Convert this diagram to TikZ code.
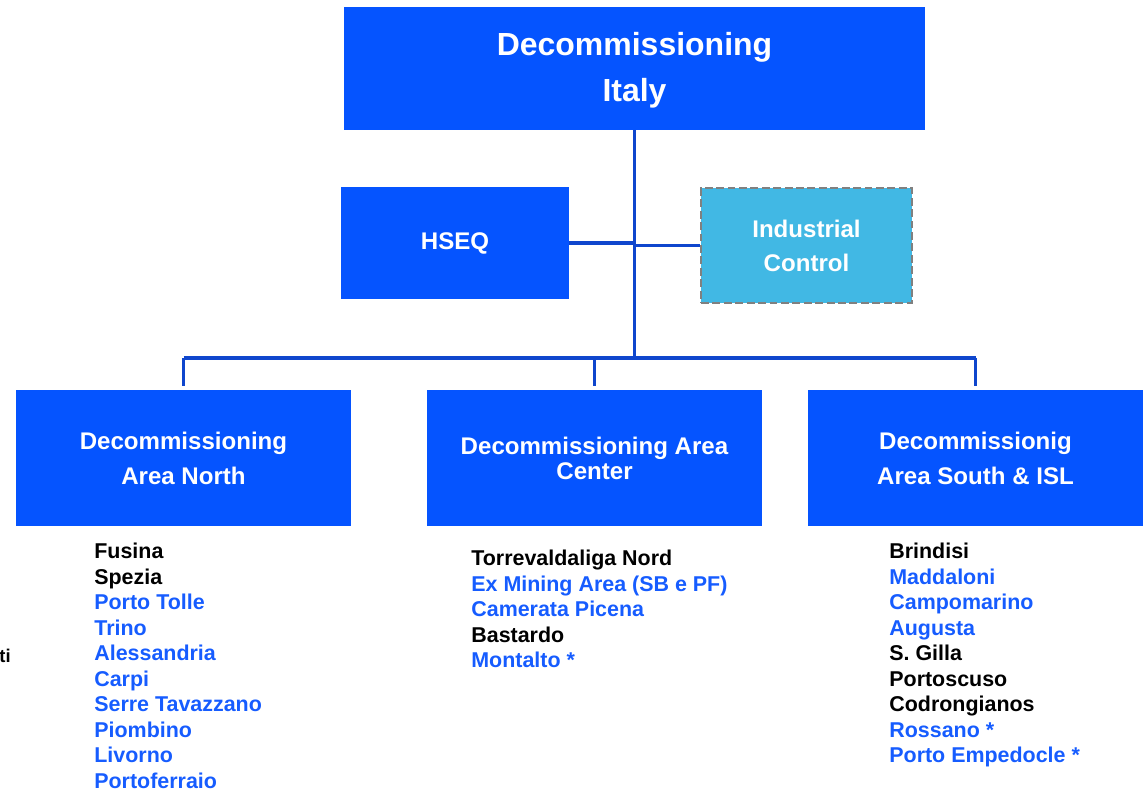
\documentclass[tikz,border=0pt]{standalone}
\usepackage{fontspec}
\setmainfont{Liberation Sans}
\definecolor{boxblue}{RGB}{5,84,255}
\definecolor{icblue}{RGB}{65,184,228}
\definecolor{lineblue}{RGB}{15,70,205}
\definecolor{textblue}{RGB}{22,92,255}
\definecolor{dashgray}{RGB}{128,128,128}
\begin{document}
\begin{tikzpicture}[x=0.02cm,y=-0.02cm,
            main box/.style={fill=boxblue,text=white,font=\bfseries,align=center,inner sep=0pt},
            area box/.style={main box,minimum width=6.7cm,minimum height=2.72cm,
                font=\fontsize{13.7}{19.9}\selectfont\bfseries},
            site list/.style={anchor=north west,inner sep=0pt,align=left,
                font=\fontsize{12.2}{14.5}\selectfont\bfseries},
            conn/.style={draw=lineblue,line width=1.8pt}]

        \useasboundingbox (0,0) rectangle (1145,793);

        % Define vertices
        \node[main box,minimum width=11.62cm,minimum height=2.46cm,
            font=\fontsize{18.2}{26}\selectfont\bfseries] (italy) at (634.5,68.5) {};
        \node[main box,fill=none,font=\fontsize{18.2}{26}\selectfont\bfseries] (italytext) at (634.5,70.5) {Decommissioning\\Italy};
        \node[main box,minimum width=4.56cm,minimum height=2.24cm,
            font=\fontsize{13.7}{19.9}\selectfont\bfseries] (hseq) at (455,243) {HSEQ};
        \node[main box,fill=icblue,draw=dashgray,dash pattern=on 4.5pt off 2pt,line width=1.6pt,
            minimum width=4.22cm,minimum height=2.3cm,
            font=\fontsize{13.7}{19.3}\selectfont\bfseries] (control) at (806.5,245.5) {Industrial\\Control};
        \node[area box] (north) at (183.5,458) {Decommissioning\\Area North};
        \node[area box,font=\fontsize{13.7}{14.2}\selectfont\bfseries] (center) at (594.5,458) {Decommissioning Area\\Center};
        \node[area box] (south) at (975.5,458) {Decommissionig\\Area South \& ISL};
        \coordinate (hub) at (634.5,358);

        % Sites
        \node[site list] (northsites) at (94,543) {Fusina\\Spezia\\
            \color{textblue}Porto Tolle\\\color{textblue}Trino\\\color{textblue}Alessandria\\
            \color{textblue}Carpi\\\color{textblue}Serre Tavazzano\\\color{textblue}Piombino\\
            \color{textblue}Livorno\\\color{textblue}Portoferraio};
        \node[site list] (centersites) at (471,550) {Torrevaldaliga Nord\\
            \color{textblue}Ex Mining Area (SB e PF)\\\color{textblue}Camerata Picena\\
            Bastardo\\\color{textblue}Montalto *};
        \node[site list] (southsites) at (889,543) {Brindisi\\
            \color{textblue}Maddaloni\\\color{textblue}Campomarino\\\color{textblue}Augusta\\
            S. Gilla\\Portoscuso\\Codrongianos\\
            \color{textblue}Rossano *\\\color{textblue}Porto Empedocle *};
        \node[anchor=east,inner sep=0pt,font=\fontsize{10.5}{12}\selectfont\bfseries] (cut) at (11,656) {ti};

        % Draw edges
        \draw[conn] (italy.south) -- (hub);
        \draw[conn] (hseq.east) -- (hseq.east -| italy.south);
        \draw[conn] (control.west) -- (control.west -| italy.south);
        \draw[conn] (north.north |- hub) -- (south.north |- hub);
        \draw[conn,shorten >=2.3pt] (north.north |- hub) -- (north.north);
        \draw[conn,shorten >=2.3pt] (center.north |- hub) -- (center.north);
        \draw[conn,shorten >=2.3pt] (south.north |- hub) -- (south.north);

\end{tikzpicture}
\end{document}
